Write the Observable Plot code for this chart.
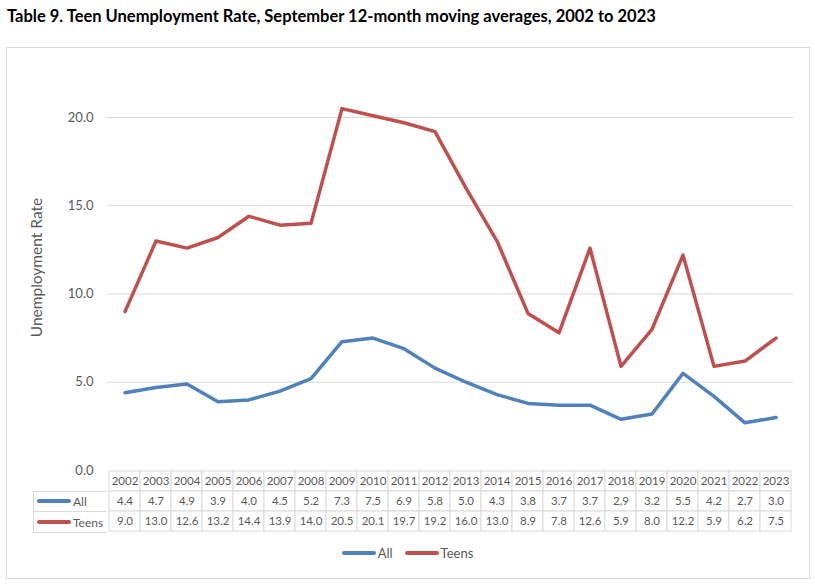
<!DOCTYPE html>
<html><head><meta charset="utf-8">
<script src="https://cdn.jsdelivr.net/npm/d3@7"></script>
<script src="https://cdn.jsdelivr.net/npm/@observablehq/plot@0.6"></script>
<style>
body{margin:0;background:#fff;font-family:Lato,sans-serif;}
#wrap{position:relative;width:815px;height:586px;overflow:hidden;}
#title{position:absolute;left:7px;top:6px;font:bold 16.5px Lato,sans-serif;color:#000;white-space:nowrap;}
#frame{position:absolute;left:6px;top:47px;width:802px;height:530px;border:1px solid #d9d9d9;box-sizing:content-box;}
#chart,#table{position:absolute;left:0;}
#chart{top:0;}
#table{top:470px;}
.side{position:absolute;left:33px;width:73px;height:20px;border:1px solid #d9d9d9;border-right:none;display:flex;align-items:center;font-size:12px;color:#595959;}
.side .sw{width:34px;height:4px;border-radius:2px;margin:0 2px 0 3px;}
#legend{position:absolute;top:545px;left:0;width:815px;display:flex;justify-content:center;font-size:13px;color:#595959;}
#legend .it{display:flex;align-items:center;margin:0 6px;}
#legend .sw{width:34px;height:4px;border-radius:2px;margin-right:2px;}
</style>
</head><body>
<div id="wrap">
  <div id="title">Table 9. Teen Unemployment Rate, September 12-month moving averages, 2002 to 2023</div>
  <div id="frame"></div>
  <div id="chart"></div>
  <div id="table"></div>
  <div id="sideLegend"></div>
  <div id="legend"></div>
</div>
<script>
const years = ["2002","2003","2004","2005","2006","2007","2008","2009","2010","2011","2012","2013","2014","2015","2016","2017","2018","2019","2020","2021","2022","2023"];
const allRate = [4.4,4.7,4.9,3.9,4.0,4.5,5.2,7.3,7.5,6.9,5.8,5.0,4.3,3.8,3.7,3.7,2.9,3.2,5.5,4.2,2.7,3.0];
const teensRate = [9.0,13.0,12.6,13.2,14.4,13.9,14.0,20.5,20.1,19.7,19.2,16.0,13.0,8.9,7.8,12.6,5.9,8.0,12.2,5.9,6.2,7.5];
const seriesNames = ["All","Teens"];
const seriesColors = ["#4f81bd","#c0504d"];
const yTicks = [0,5,10,15,20];

const seriesValues = [allRate, teensRate];
const long = [];
seriesNames.forEach((s,i)=>years.forEach((y,j)=>long.push({year:y, series:s, value:seriesValues[i][j]})));

const W = 815, mL = 107, mR = 22;

const chart = Plot.plot({
  width: W, height: 482,
  marginLeft: mL, marginRight: mR, marginTop: 64, marginBottom: 12,
  style: {fontFamily: "Lato, sans-serif", fontSize: "13px", color: "#595959", background: "transparent", overflow: "visible"},
  x: {type: "band", domain: years, padding: 0, axis: null},
  y: {domain: [0, 23]},
  color: {domain: seriesNames, range: seriesColors},
  marks: [
    Plot.gridY([5,10,15,20], {stroke: "#d9d9d9", strokeOpacity: 1}),
    Plot.axisY({ticks: yTicks, tickFormat: d3.format(".1f"), tickSize: 0, tickPadding: 14,
      label: "Unemployment Rate", labelAnchor: "center", labelArrow: "none", labelOffset: 77, fontSize: 13}),
    Plot.lineY(long, {x: "year", y: "value", z: "series", stroke: "series", strokeWidth: 3.5,
      strokeLinecap: "round", strokeLinejoin: "round"})
  ]
});
d3.select(chart).selectAll('[aria-label="y-axis label"]').attr("font-size", 15.5).selectAll("text").attr("font-size", 15.5);
document.getElementById("chart").append(chart);

const rows = ["year", ...seriesNames];
const cells = [];
years.forEach((y,j)=>{
  cells.push({year:y, row:"year", text:y});
  seriesNames.forEach((s,i)=>cells.push({year:y, row:s, text:seriesValues[i][j].toFixed(1)}));
});
const table = Plot.plot({
  width: W, height: 62,
  marginLeft: mL, marginRight: mR, marginTop: 0, marginBottom: 0,
  style: {fontFamily: "Lato, sans-serif", fontSize: "11px", color: "#595959", background: "transparent", overflow: "visible"},
  x: {type: "band", domain: years, padding: 0, axis: null},
  y: {type: "band", domain: rows, padding: 0, axis: null},
  marks: [
    Plot.cell(cells, {x: "year", y: "row", fill: "white", stroke: "#d9d9d9", inset: 0}),
    Plot.text(cells, {x: "year", y: "row", text: "text", fill: "#595959", fontSize: 11.5})
  ]
});
document.getElementById("table").append(table);

const side = document.getElementById("sideLegend");
seriesNames.forEach((s,i)=>{
  const d = document.createElement("div");
  d.className = "side";
  d.style.top = (470 + 62/3*(i+1)) + "px";
  d.style.height = (62/3 - 1) + "px";
  d.innerHTML = `<span class="sw" style="background:${seriesColors[i]}"></span><span>${s}</span>`;
  side.append(d);
});

const leg = document.getElementById("legend");
seriesNames.forEach((s,i)=>{
  const d = document.createElement("div");
  d.className = "it";
  d.innerHTML = `<span class="sw" style="background:${seriesColors[i]}"></span><span>${s}</span>`;
  leg.append(d);
});
</script>
</body></html>
